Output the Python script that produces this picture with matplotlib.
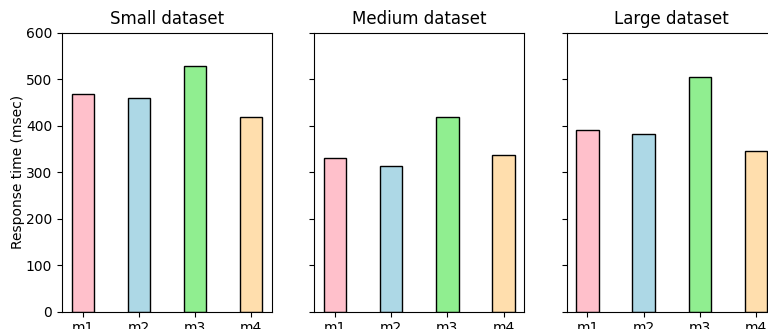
import matplotlib
matplotlib.use("Agg")
import matplotlib.pyplot as plt

methods = ["m1", "m2", "m3", "m4"]
titles = ["Small dataset", "Medium dataset", "Large dataset"]
small = [468, 460, 528, 419]
medium = [330, 313, 419, 338]
large = [390, 383, 505, 346]
colors = ["pink", "lightblue", "lightgreen", "navajowhite"]

fig = plt.figure(figsize=(7.68, 3.29), dpi=100)
W, H = 768, 329
lefts = [62, 314.3, 566.7]
axw = 210
bottom = 311.7
top = 32.7
axes = []
for i, l in enumerate(lefts):
    ax = fig.add_axes([l / W, (H - bottom) / H, axw / W, (bottom - top) / H],
                      sharey=axes[0] if axes else None)
    axes.append(ax)

for ax, title, vals in zip(axes, titles, [small, medium, large]):
    ax.bar(methods, vals, width=0.4, color=colors, edgecolor="black", linewidth=1)
    ax.set_title(title)
axes[0].set_ylim(0, 600)
axes[0].set_ylabel("Response time (msec)", labelpad=1)
for ax in axes[1:]:
    ax.tick_params(labelleft=False)

fig.savefig("out.png", dpi=100)
